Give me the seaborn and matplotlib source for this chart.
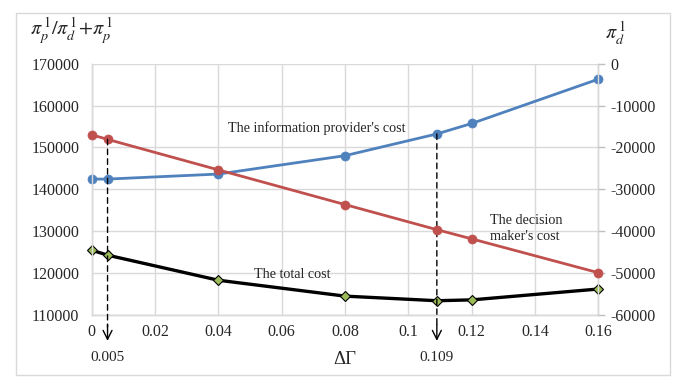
import matplotlib
matplotlib.use('Agg')
import matplotlib.pyplot as plt
from matplotlib.patches import Rectangle
import seaborn as sns

# data
delta_gamma = [0, 0.005, 0.04, 0.08, 0.109, 0.12, 0.16]
provider_cost = [142400, 142400, 143600, 148000, 153200, 155700, 166300]   # left axis
decision_cost = [-17000, -18100, -25400, -33700, -39700, -41900, -50000]  # right axis
total_cost = [125400, 124200, 118200, 114400, 113300, 113500, 116100]     # left axis

x_ticks = [0, 0.02, 0.04, 0.06, 0.08, 0.1, 0.12, 0.14, 0.16]
x_ticklabels = ['0', '0.02', '0.04', '0.06', '0.08', '0.1', '0.12', '0.14', '0.16']
left_ticks = [110000, 120000, 130000, 140000, 150000, 160000, 170000]
right_ticks = [-60000, -50000, -40000, -30000, -20000, -10000, 0]
marked_x = [0.005, 0.109]

sns.set_style('white')
plt.rcParams['font.family'] = ['Liberation Serif', 'DejaVu Serif']
plt.rcParams['mathtext.fontset'] = 'stix'

grid_c = '#D9D9D9'
blue = '#4F81BD'
red = '#C0504D'
green = '#9BBB59'

fig = plt.figure(figsize=(6.99, 3.87), dpi=100)
ax = fig.add_axes([0.1312, 0.1873, 0.7248, 0.6481])
ax2 = ax.twinx()

sns.lineplot(x=delta_gamma, y=provider_cost, ax=ax, color=blue, lw=2, marker='o',
             markersize=6.5, markeredgecolor=blue, markeredgewidth=0.5)
sns.lineplot(x=delta_gamma, y=total_cost, ax=ax, color='black', lw=2.4, marker='D',
             markersize=5.2, markerfacecolor=green, markeredgecolor='black',
             markeredgewidth=0.8)
sns.lineplot(x=delta_gamma, y=decision_cost, ax=ax2, color=red, lw=2, marker='o',
             markersize=6.5, markeredgecolor=red, markeredgewidth=0.5)
for line in ax.lines + ax2.lines:
    line.set_clip_on(False)

ax.set_xlim(0, 0.16)
ax.set_ylim(110000, 170000)
ax2.set_ylim(-60000, 0)
ax.set_xticks(x_ticks)
ax.set_xticklabels(x_ticklabels)
ax.set_yticks(left_ticks)
ax.set_yticklabels([str(v) for v in left_ticks])
ax2.set_yticks(right_ticks)
ax2.set_yticklabels([str(v) for v in right_ticks])

ax.grid(True, color=grid_c, lw=1)
ax.set_axisbelow(True)
for a in (ax, ax2):
    for s in a.spines.values():
        s.set_color(grid_c)
        s.set_linewidth(1)
        s.set_zorder(0)
    a.spines['top'].set_visible(False)
ax.tick_params(axis='x', length=0, pad=7, labelsize=11.5)
ax.tick_params(axis='y', length=0, pad=9, labelsize=11.5)
ax2.tick_params(axis='y', length=5, width=1, color='#BFBFBF', pad=4, labelsize=11.5)

ax.set_xlabel('ΔΓ', fontsize=13.5)
ax.xaxis.set_label_coords(0.5, -0.145)
ax.set_ylabel('')
ax2.set_ylabel('')

# dashed drop lines with arrows
drops = [(ax2, marked_x[0], decision_cost[1]), (ax, marked_x[1], provider_cost[4])]
for a, xv, yv in drops:
    a.annotate('', xy=(xv, -0.05), xycoords=('data', 'axes fraction'),
               xytext=(xv, yv), textcoords='data',
               arrowprops=dict(arrowstyle='-', ls=(0, (4, 3)), color='black', lw=1,
                               shrinkA=0, shrinkB=0), annotation_clip=False)
    a.annotate('', xy=(xv, -0.105), xycoords=('data', 'axes fraction'),
               xytext=(xv, -0.04), textcoords=('data', 'axes fraction'),
               arrowprops=dict(arrowstyle='->', color='black', lw=1, mutation_scale=16,
                               shrinkA=0, shrinkB=0), annotation_clip=False)
    a.text(xv, -0.17, str(xv), transform=a.get_xaxis_transform(), ha='center',
           va='center', fontsize=11)

ax.text(0.445, 0.744, "The information provider's cost", transform=ax.transAxes,
        ha='center', va='center', fontsize=10.2)
ax.text(0.395, 0.161, 'The total cost', transform=ax.transAxes,
        ha='center', va='center', fontsize=10.2)
ax.text(0.786, 0.343, "The decision\nmaker's cost", transform=ax.transAxes,
        ha='left', va='center', fontsize=10.2, linespacing=1.35)

fig.text(0.043, 0.922, r'$\pi_p^{\,1}/\pi_d^{\,1}\!+\!\pi_p^{\,1}$', ha='left', va='center', fontsize=14.5)
fig.text(0.866, 0.915, r'$\pi_d^{\,1}$', ha='left', va='center', fontsize=14.5)

fig.patches.append(Rectangle((0.0229, 0.031), 0.9356, 0.9354, transform=fig.transFigure,
                             fill=False, edgecolor=grid_c, lw=1))

fig.savefig('out.png', dpi=100)
